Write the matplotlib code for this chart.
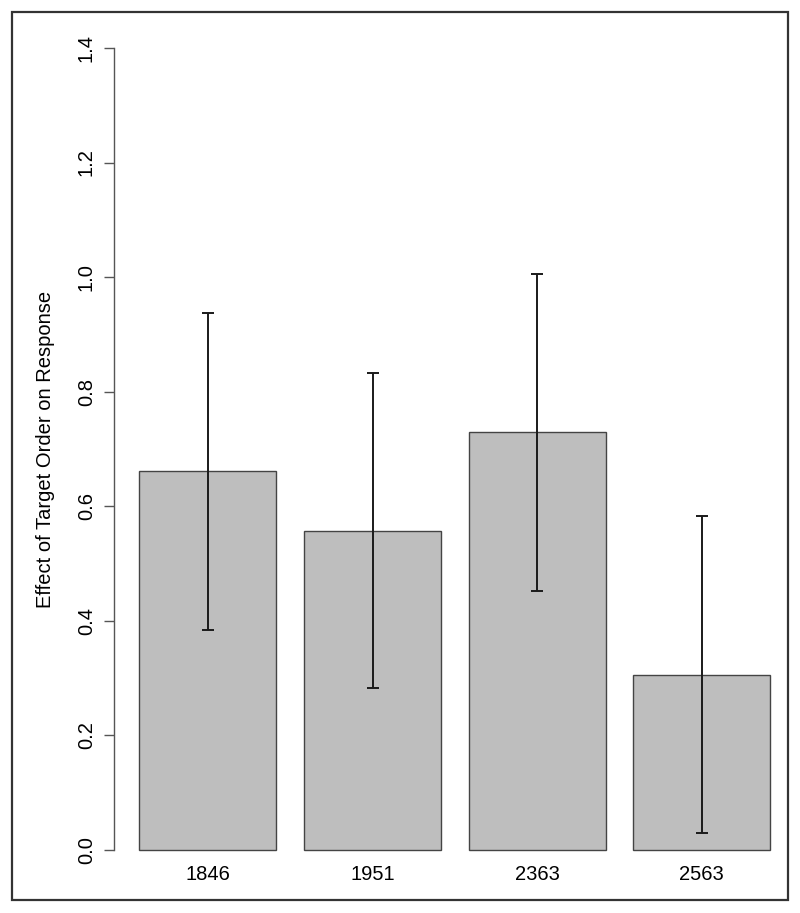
import matplotlib
matplotlib.use("Agg")
import matplotlib.pyplot as plt
from matplotlib.patches import Rectangle
import numpy as np

# ---- data ----
categories = ["1846", "1951", "2363", "2563"]
effects = [0.661, 0.557, 0.730, 0.305]
ci_lower = [0.384, 0.282, 0.453, 0.029]
ci_upper = [0.938, 0.832, 1.006, 0.583]
y_ticks = [0.0, 0.2, 0.4, 0.6, 0.8, 1.0, 1.2, 1.4]
y_label = "Effect of Target Order on Response"

plt.rcParams['font.family'] = ['Liberation Sans', 'DejaVu Sans']
FS = 14.5

fig = plt.figure(figsize=(8.0, 9.13), dpi=100)
W, H = 800, 913
# axes region in pixel terms (R barplot style)
left_px, right_px = 114.1, 795.5
bottom_px, top_px = 882.1, 15.9
ax = fig.add_axes([left_px / W, 1 - bottom_px / H,
                   (right_px - left_px) / W, (bottom_px - top_px) / H])

centers = 0.7 + 1.2 * np.arange(len(categories))
effects_a = np.array(effects)
err = [effects_a - np.array(ci_lower), np.array(ci_upper) - effects_a]

ax.bar(centers, effects, width=1.0, color='#bebebe', edgecolor='#444444',
       linewidth=1.0, zorder=2)
ax.errorbar(centers, effects, yerr=err, fmt='none', ecolor='#1a1a1a',
            elinewidth=1.4, capsize=4, capthick=1.4, zorder=3)

ax.set_xlim(0.016, 4.984)
ax.set_ylim(-0.056, 1.456)

for s in ['top', 'right']:
    ax.spines[s].set_visible(False)
ax.spines['bottom'].set_position(('data', 0))
ax.spines['bottom'].set_visible(False)
ax.spines['left'].set_bounds(0, 1.4)
ax.spines['left'].set_color('#555555')
ax.spines['left'].set_linewidth(1.0)

ax.set_yticks(y_ticks)
ax.set_yticklabels([f"{v:.1f}" for v in y_ticks], rotation=90, va='center',
                   fontsize=FS)
ax.tick_params(axis='y', length=7.2, width=1.0, color='#555555', pad=6)

ax.set_xticks(centers)
ax.set_xticklabels(categories, fontsize=FS)
ax.tick_params(axis='x', length=0, pad=10.6)

ax.set_ylabel(y_label, fontsize=FS)
ax.yaxis.set_label_coords((55 - left_px) / (right_px - left_px), 0.5)

# outer box
fig.patches.append(Rectangle((12 / W, 1 - 900 / H), (788 - 12) / W, (900 - 12) / H,
                             transform=fig.transFigure, fill=False,
                             edgecolor='#333333', linewidth=1.6))

fig.savefig("out.png", dpi=100)
